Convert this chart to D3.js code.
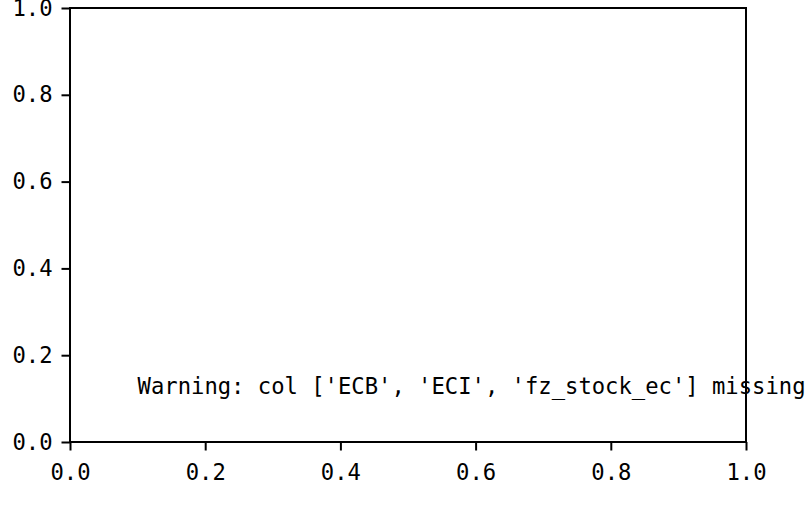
<!DOCTYPE html>
<html>
<head>
<meta charset="utf-8">
<script src="https://cdn.jsdelivr.net/npm/d3@7"></script>
<style>
  html, body { margin: 0; padding: 0; background: #fff; }
  svg { display: block; }
</style>
</head>
<body>
<svg id="chart" width="812" height="514"></svg>
<script>
// ---- data ----
const xTicks = [0.0, 0.2, 0.4, 0.6, 0.8, 1.0];
const yTicks = [0.0, 0.2, 0.4, 0.6, 0.8, 1.0];
const xDomain = [0, 1];
const yDomain = [0, 1];
const warningText = "Warning: col ['ECB', 'ECI', 'fz_stock_ec'] missing";
const warningPos = [0.1, 0.1];

// ---- layout ----
const W = 812, H = 514;
const margin = { left: 70, right: 66, top: 8, bottom: 72 };
const svg = d3.select("#chart");
const x = d3.scaleLinear().domain(xDomain).range([margin.left, W - margin.right]);
const y = d3.scaleLinear().domain(yDomain).range([H - margin.bottom, margin.top]);
const fontFam = '"DejaVu Sans Mono", "Liberation Mono", monospace';
const fs = 22.2;
const lw = 2;

// warning text (drawn beneath the spines)
svg.append("text")
  .attr("x", x(warningPos[0]))
  .attr("y", y(warningPos[1]) - 5)
  .attr("font-family", fontFam)
  .attr("font-size", fs)
  .attr("fill", "#000")
  .attr("xml:space", "preserve")
  .text(warningText);

// axes
const fmt = d => d.toFixed(1);
const gx = svg.append("g")
  .attr("transform", `translate(0,${y(0)})`)
  .call(d3.axisBottom(x).tickValues(xTicks).tickFormat(fmt).tickSize(8.5).tickSizeOuter(0).tickPadding(6));
const gy = svg.append("g")
  .attr("transform", `translate(${x(0)},0)`)
  .call(d3.axisLeft(y).tickValues(yTicks).tickFormat(fmt).tickSize(8.5).tickSizeOuter(0).tickPadding(9));

[gx, gy].forEach(g => {
  g.select(".domain").remove();
  g.selectAll(".tick line").attr("stroke", "#000").attr("stroke-width", lw);
  g.selectAll(".tick text").attr("font-size", fs).attr("fill", "#000").attr("font-family", fontFam);
});
gx.selectAll(".tick text").attr("dy", "1.05em");

// spines
svg.append("rect")
  .attr("x", x(0)).attr("y", y(1))
  .attr("width", x(1) - x(0)).attr("height", y(0) - y(1))
  .attr("fill", "none").attr("stroke", "#000").attr("stroke-width", lw);
</script>
</body>
</html>
